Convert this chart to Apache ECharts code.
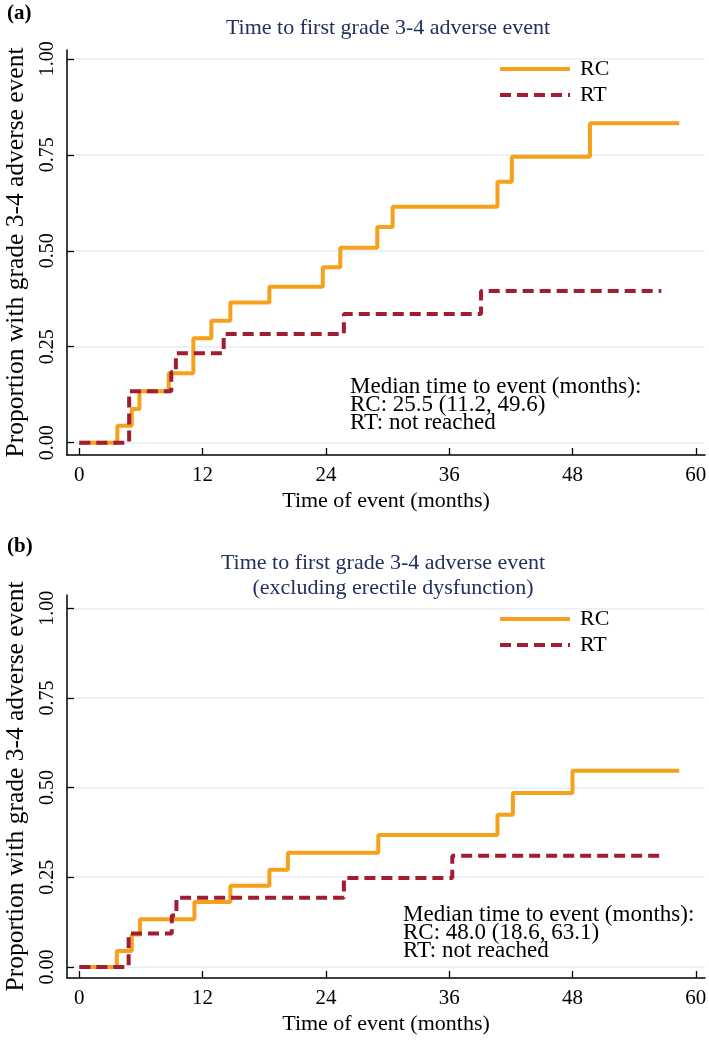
<!DOCTYPE html>
<html><head><meta charset="utf-8">
<script src="https://cdn.jsdelivr.net/npm/echarts@6/dist/echarts.min.js"></script>
<style>html,body{margin:0;padding:0;background:#fff}#c{width:709px;height:1044px}</style>
</head><body><div id="c"></div>
<script>
// ---- data ----
const xTicks = [0, 12, 24, 36, 48, 60];
const yTicks = [0, 0.25, 0.5, 0.75, 1];
const seriesNames = ['RC', 'RT'];
// Panel (a): time to first grade 3-4 adverse event
const rcTimeA = [0, 3.7, 5.1, 5.85, 8.7, 11.1, 12.85, 14.7, 18.5, 23.7, 25.4, 29.0, 30.5, 40.7, 42.1, 49.7, 58.4];
const rcValA  = [0, 0.044, 0.088, 0.134, 0.181, 0.272, 0.318, 0.365, 0.406, 0.457, 0.508, 0.562, 0.615, 0.68, 0.745, 0.832, 0.832];
const rtTimeA = [0, 4.85, 8.95, 9.4, 14.05, 25.75, 39.1, 56.65];
const rtValA  = [0, 0.134, 0.184, 0.233, 0.283, 0.335, 0.395, 0.395];
// Panel (b): excluding erectile dysfunction
const rcTimeB = [0, 3.65, 5.1, 5.9, 11.2, 14.7, 18.5, 20.3, 29.1, 40.7, 42.2, 48.0, 58.4];
const rcValB  = [0, 0.044, 0.09, 0.133, 0.181, 0.226, 0.271, 0.318, 0.368, 0.424, 0.485, 0.547, 0.547];
const rtTimeB = [0, 4.8, 9.0, 9.45, 25.75, 36.3, 56.65];
const rtValB  = [0, 0.093, 0.143, 0.193, 0.248, 0.31, 0.31];
const titleA = 'Time to first grade 3-4 adverse event';
const titleB1 = 'Time to first grade 3-4 adverse event';
const titleB2 = '(excluding erectile dysfunction)';
const xTitle = 'Time of event (months)';
const yTitle = 'Proportion with grade 3-4 adverse event';
const noteA = ['Median time to event (months):', 'RC: 25.5 (11.2, 49.6)', 'RT: not reached'];
const noteB = ['Median time to event (months):', 'RC: 48.0 (18.6, 63.1)', 'RT: not reached'];

// ---- styling ----
const FONT = "'Liberation Serif', 'Times New Roman', serif";
const ORANGE = '#F5A11C';
const RED = '#A21C32';
const NAVY = '#22305E';
const GRIDC = '#E7EEF1';
const DASH = [11, 6];

const zip = (t, v) => t.map((x, i) => [x, v[i]]);

function xAxisCfg(gi) {
  return {
    type: 'value', gridIndex: gi, min: -1.2, max: 60.9,
    axisLine: { show: true, onZero: false, lineStyle: { color: '#000', width: 1.5 } },
    axisTick: { show: true, inside: true, length: 7, customValues: xTicks, lineStyle: { color: '#000', width: 1.3 } },
    axisLabel: { customValues: xTicks, fontSize: 21, color: '#000', fontFamily: FONT, margin: 10 },
    splitLine: { show: false },
    name: xTitle, nameLocation: 'middle', nameGap: 35,
    nameTextStyle: { fontSize: 22, color: '#000', fontFamily: FONT, verticalAlign: 'top' }
  };
}
function yAxisCfg(gi, mn, mx) {
  return {
    type: 'value', gridIndex: gi, min: mn, max: mx,
    axisLine: { show: true, onZero: false, lineStyle: { color: '#000', width: 1.5 } },
    axisTick: { show: true, inside: true, length: 7, customValues: yTicks, lineStyle: { color: '#000', width: 1.3 } },
    axisLabel: { customValues: yTicks, rotate: 90, fontSize: 20, color: '#000', fontFamily: FONT, margin: 9,
      formatter: v => v.toFixed(2) },
    splitLine: { show: true, lineStyle: { color: GRIDC, width: 1.5 } },
    name: yTitle, nameLocation: 'middle', nameRotate: 90, nameGap: 38,
    nameTextStyle: { fontSize: 25.5, color: '#000', fontFamily: FONT }
  };
}
function stepSeries(name, data, gi, color, dashed) {
  return {
    name, type: 'line', step: 'end', xAxisIndex: gi, yAxisIndex: gi,
    data, symbol: 'none', silent: true, animation: false,
    lineStyle: { color, width: 4, type: dashed ? DASH : 'solid' },
    itemStyle: { color }
  };
}
function legendCfg(top) {
  return {
    data: [
      { name: seriesNames[0], lineStyle: { color: ORANGE, width: 4, type: 'solid' } },
      { name: seriesNames[1], lineStyle: { color: RED, width: 4, type: DASH } }
    ],
    orient: 'vertical', left: 498, top, padding: 0,
    itemWidth: 70, itemHeight: 14, itemGap: 4, selectedMode: false,
    itemStyle: { opacity: 0, borderWidth: 0 },
    textStyle: { fontSize: 22, color: '#000', fontFamily: FONT, padding: [0, 0, 0, 5] }
  };
}
function txt(x, y, text, opts) {
  return Object.assign({ type: 'text', x, y, silent: true,
    style: Object.assign({ text, font: '22px ' + FONT, fill: '#000' }, opts || {}) });
}

const chart = echarts.init(document.getElementById('c'), null, { renderer: 'canvas' });
chart.setOption({
  animation: false,
  backgroundColor: '#fff',
  grid: [
    { left: 67, right: 4, top: 50, height: 405, containLabel: false, outerBoundsMode: 'none' },
    { left: 67, right: 4, top: 595, height: 383, containLabel: false, outerBoundsMode: 'none' }
  ],
  xAxis: [xAxisCfg(0), xAxisCfg(1)],
  yAxis: [yAxisCfg(0, -0.032, 1.023), yAxisCfg(1, -0.031, 1.037)],
  legend: [legendCfg(58), legendCfg(608)],
  series: [
    stepSeries('RC', zip(rcTimeA, rcValA), 0, ORANGE, false),
    stepSeries('RT', zip(rtTimeA, rtValA), 0, RED, true),
    stepSeries('RC', zip(rcTimeB, rcValB), 1, ORANGE, false),
    stepSeries('RT', zip(rtTimeB, rtValB), 1, RED, true)
  ],
  graphic: [
    txt(7, 3, '(a)', { font: 'bold 21px ' + FONT }),
    txt(7, 536, '(b)', { font: 'bold 21px ' + FONT }),
    txt(388, 28, titleA, { fill: NAVY, align: 'center', verticalAlign: 'middle' }),
    txt(383, 563, titleB1, { fill: NAVY, align: 'center', verticalAlign: 'middle' }),
    txt(393, 588, titleB2, { fill: NAVY, align: 'center', verticalAlign: 'middle' }),
    txt(350, 378, noteA.join('\n'), { font: '23px ' + FONT, lineHeight: 18 }),
    txt(403, 906, noteB.join('\n'), { font: '23px ' + FONT, lineHeight: 18 })
  ]
});
</script></body></html>
